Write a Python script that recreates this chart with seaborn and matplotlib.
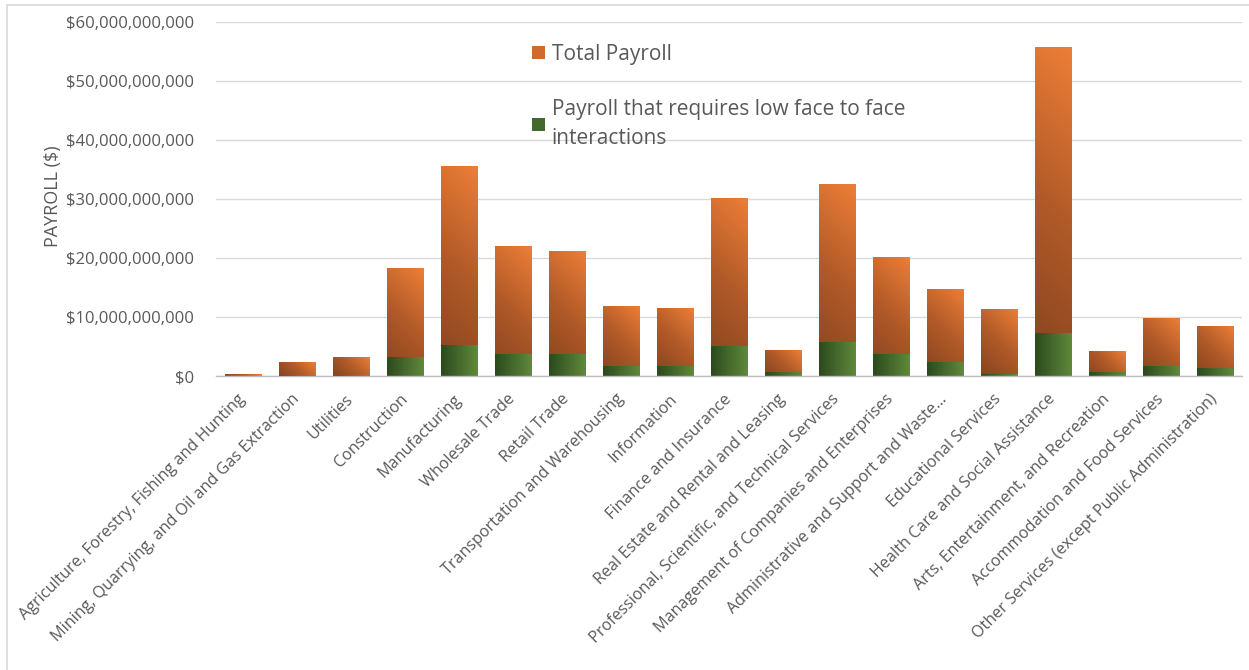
import numpy as np
import pandas as pd
import seaborn as sns
import matplotlib
matplotlib.use("Agg")
import matplotlib.pyplot as plt
from matplotlib.colors import LinearSegmentedColormap
from matplotlib.patches import Rectangle, Patch
from matplotlib.ticker import FuncFormatter, MultipleLocator

# Payroll by industry, in billions of dollars
industries = [
    "Agriculture, Forestry, Fishing and Hunting",
    "Mining, Quarrying, and Oil and Gas Extraction",
    "Utilities",
    "Construction",
    "Manufacturing",
    "Wholesale Trade",
    "Retail Trade",
    "Transportation and Warehousing",
    "Information",
    "Finance and Insurance",
    "Real Estate and Rental and Leasing",
    "Professional, Scientific, and Technical Services",
    "Management of Companies and Enterprises",
    "Administrative and Support and Waste\u2026",
    "Educational Services",
    "Health Care and Social Assistance",
    "Arts, Entertainment, and Recreation",
    "Accommodation and Food Services",
    "Other Services (except Public Administration)",
]
total_payroll_bn = [0.34, 2.3, 3.2, 18.25, 35.6, 22.0, 21.2, 11.9, 11.6, 30.2,
                    4.35, 32.5, 20.2, 14.8, 11.4, 55.8, 4.2, 9.8, 8.5]
low_contact_payroll_bn = [0.05, 0.2, 0.2, 3.2, 5.25, 3.7, 3.7, 1.7, 1.7, 5.1,
                          0.73, 5.7, 3.7, 2.4, 0.35, 7.3, 0.73, 1.7, 1.4]
legend_labels = ["Total Payroll",
                 "Payroll that requires low face to face\ninteractions"]

TEXT = "#595959"
W, H = 1249, 670

sns.set_theme(style="white")
plt.rcParams["font.family"] = ["Open Sans", "DejaVu Sans"]

df = pd.DataFrame({
    "industry": industries,
    "total": np.array(total_payroll_bn) * 1e9,
    "low": np.array(low_contact_payroll_bn) * 1e9,
})

fig = plt.figure(figsize=(W / 100, H / 100), dpi=100)
ax_left, ax_right, ax_bottom, ax_top = 216, 1242, 376, 22
ax = fig.add_axes([ax_left / W, 1 - ax_bottom / H,
                   (ax_right - ax_left) / W, (ax_bottom - ax_top) / H])

sns.barplot(data=df, x="industry", y="total", color="#ED7D31", width=0.67,
            saturation=1, errorbar=None, ax=ax)
sns.barplot(data=df, x="industry", y="low", color="#5E8A3C", width=0.67,
            saturation=1, errorbar=None, ax=ax)

ax.set_xlim(-0.5, len(industries) - 0.5)
ax.set_ylim(0, 60e9)

# Gradient fills clipped to each bar
orange_cmap = LinearSegmentedColormap.from_list("orange", ["#86431F", "#B15A28", "#ED7E37"])
green_cmap = LinearSegmentedColormap.from_list("green", ["#2C4A1D", "#60893C"])
px_per_x = (ax_right - ax_left) / len(industries)
px_per_y = (ax_bottom - ax_top) / 60e9
n_orange = len(industries)
grid = np.linspace(0, 1, 80)
U, V = np.meshgrid(grid, grid)
for i, p in enumerate(list(ax.patches)):
    x0, y0, w, h = p.get_x(), p.get_y(), p.get_width(), p.get_height()
    if h <= 0:
        continue
    if i < n_orange:
        wpx, hpx = w * px_per_x, h * px_per_y
        t = (U * wpx + V * hpx) / (wpx + hpx)
        cmap, z = orange_cmap, 2.0
    else:
        t = U
        cmap, z = green_cmap, 2.2
    im = ax.imshow(t, extent=[x0, x0 + w, y0, y0 + h], origin="lower", cmap=cmap,
                   vmin=0, vmax=1, aspect="auto", interpolation="bilinear", zorder=z)
    im.set_clip_path(p)
    p.set_facecolor("none")
    p.set_edgecolor("none")

ax.set_xlim(-0.5, len(industries) - 0.5)
ax.set_ylim(0, 60e9)

# Axes styling
ax.set_axisbelow(True)
ax.yaxis.set_major_locator(MultipleLocator(10e9))
ax.yaxis.set_major_formatter(FuncFormatter(lambda v, _: f"${v:,.0f}"))
ax.yaxis.grid(True, color="#D9D9D9", linewidth=1)
ax.xaxis.grid(False)
for side in ("left", "right", "top"):
    ax.spines[side].set_visible(False)
ax.spines["bottom"].set_color("#BFBFBF")
ax.spines["bottom"].set_linewidth(1)
ax.tick_params(axis="y", length=0, pad=16, labelsize=12, labelcolor=TEXT)
ax.tick_params(axis="x", length=0, pad=15, labelsize=11.6, labelcolor=TEXT)
ax.set_xlabel("")
plt.setp(ax.get_xticklabels(), rotation=45, ha="right", va="center",
         rotation_mode="anchor")

ax.set_ylabel("PAYROLL ($)", fontsize=13, color=TEXT)
ax.yaxis.set_label_coords((62 - ax_left) / (ax_right - ax_left), 0.508)

# Legend
handles = [Patch(facecolor="#D06A2E", edgecolor="none"),
           Patch(facecolor="#45692D", edgecolor="none")]
leg = ax.legend(handles=handles, labels=legend_labels, loc="upper left",
                bbox_to_anchor=(532 / W, 1 - 44 / H), bbox_transform=fig.transFigure,
                frameon=False, fontsize=15, labelcolor=TEXT, handlelength=0.6,
                handleheight=0.6, handletextpad=0.35, labelspacing=1.65,
                borderpad=0, borderaxespad=0)
for txt in leg.get_texts():
    txt.set_linespacing(1.45)

# Chart area border
fig.add_artist(Rectangle((7 / W, -0.1), 1.2, 1.1 - 5 / H, transform=fig.transFigure,
                         fill=False, edgecolor="#D9D9D9", linewidth=1.2))

fig.savefig("out.png", dpi=100)
